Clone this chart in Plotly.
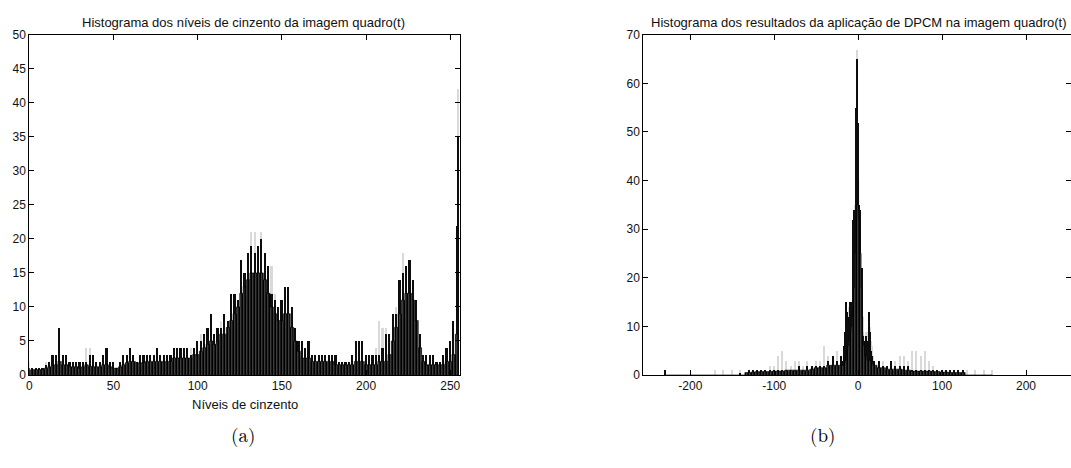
import plotly.graph_objects as go

# ---------------- (a) grey-level histogram ----------------
niveis_a = [0, 2, 4, 6, 8, 10, 12, 14, 16, 18, 20, 22, 24, 26, 28, 30, 32, 34, 36, 38,
            40, 42, 44, 46, 48, 50, 52, 54, 56, 58, 60, 62, 64, 66, 68, 70, 72, 74, 76, 78,
            80, 82, 84, 86, 88, 90, 92, 94, 96, 98, 100, 102, 104, 106, 108, 110, 112, 114, 116, 118,
            120, 122, 124, 126, 128, 130, 132, 134, 136, 138, 140, 142, 144, 146, 148, 150, 152, 154, 156, 158,
            160, 162, 164, 166, 168, 170, 172, 174, 176, 178, 180, 182, 184, 186, 188, 190, 192, 194, 196, 198,
            200, 202, 204, 206, 208, 210, 212, 214, 216, 218, 220, 222, 224, 226, 228, 230, 232, 234, 236, 238,
            240, 242, 244, 246, 248, 250, 252, 254, 255]
corpo_a = [0.7, 0.8, 0.8, 0.8, 0.8, 1, 1.2, 1.5, 1.5, 2, 1.5, 1.5, 1.2, 1.2, 1.2, 1.0, 1.2, 1.5, 1.3, 1.2,
           1.2, 1.2, 1.5, 1.5, 1.2, 1.0, 1.0, 1.2, 1.5, 1.8, 2, 2, 1.8, 1.8, 1.8, 2, 2, 2, 2, 2,
           2, 2, 2, 2.5, 2.5, 2.5, 2.5, 2.5, 2.5, 3, 3, 3.5, 4, 4.5, 5, 4.5, 5, 6, 6, 7,
           8, 9, 10, 12, 13, 14, 15, 15, 15, 15, 14, 12, 10, 9, 8, 8, 9, 9, 7, 5,
           3.5, 2.5, 2.5, 2.5, 2, 2, 2, 2, 2, 2, 2, 1.5, 1.5, 1.5, 1.5, 1.5, 1.5, 2, 2, 2,
           1.5, 1.5, 1.5, 1.5, 2, 2, 2, 3, 5, 7, 9, 11, 12, 12, 11, 8, 4, 2, 1.5, 1.5,
           1.5, 1.5, 1.5, 1.5, 2, 2, 3, 6, 6]
pico_a = [1, 1, 1, 1, 1, 1.5, 2, 3, 3, 7, 3, 3, 2, 2, 2, 2, 2, 2, 3, 3,
          2, 2, 3, 4, 2, 2, 1, 2, 3, 3, 4, 3, 2, 3, 3, 3, 3, 3, 4, 3,
          3, 3, 3, 4, 4, 4, 4, 4, 3, 4, 5, 5, 6, 7, 9, 6, 7, 7, 9, 8,
          12, 12, 11, 17, 15, 18, 19, 18, 19, 20, 18, 16, 12, 11, 10, 11, 13, 13, 10, 7,
          5, 5, 4, 5, 3, 3, 3, 3, 3, 3, 3, 3, 2, 2, 2, 2, 3, 5, 5, 5,
          3, 3, 3, 3, 3, 4, 6, 6, 9, 9, 14, 15, 16, 17, 14, 11, 6, 3, 3, 3,
          3, 2, 2, 3, 4, 5, 8, 22, 35]
pontos_a = [2, 1, 1, 1, 1, 2, 2, 2, 3, 5, 2, 2, 2, 2, 2, 2, 2, 4, 4, 2,
            2, 2, 2, 2, 2, 1, 1, 2, 2, 2, 3, 3, 2, 2, 2, 2, 2, 2, 3, 2,
            3, 3, 3, 3, 3, 3, 4, 4, 4, 3, 4, 6, 5, 6, 7, 6, 6, 8, 7, 7,
            10, 11, 10, 12, 14, 17, 21, 21, 17, 21, 16, 15, 16, 12, 9, 10, 10, 11, 8, 6,
            5, 4, 3, 3, 3, 3, 2, 2, 3, 3, 2, 2, 2, 2, 2, 2, 2, 3, 3, 3,
            2, 2, 2, 4, 8, 7, 7, 5, 8, 10, 14, 18, 14, 15, 12, 10, 5, 3, 2, 2,
            2, 2, 2, 2, 3, 4, 6, 10, 42]
ticks_x_a = [0, 50, 100, 150, 200, 250]
ticks_y_a = [0, 5, 10, 15, 20, 25, 30, 35, 40, 45, 50]

# ---------------- (b) DPCM histogram ----------------
dpcm_b = [-230, -170, -160, -150, -140, -130, -125, -120, -115, -110, -105, -100, -95, -90, -85, -80,
          -75, -70, -65, -60, -55, -50, -45, -40, -35, -30, -25, -20, -19, -18, -17, -16, -15, -14,
          -13, -12, -11, -10, -9, -8, -7, -6, -5, -4, -3, -2, -1, 0, 1, 2, 3, 4, 5, 6, 7, 8, 9,
          10, 11, 12, 13, 14, 15, 16, 17, 18, 19, 20, 25, 30, 35, 40, 45, 50, 55, 60, 65, 70, 75,
          80, 85, 90, 95, 100, 105, 110, 115, 120, 125, 130, 140, 150, 160]
corpo_b = [0, 0, 0, 0, 0, 0.5, 0.6, 0.7, 0.7, 0.7, 0.7, 0.8, 0.8, 0.8, 1, 1,
           1, 1, 1, 1, 1.2, 1.5, 1.5, 1.5, 2, 2, 2, 2, 2, 2, 2, 2.5, 3, 4,
           5, 6, 7, 8, 9, 10, 12, 14, 18, 25, 30, 32, 35, 40, 33, 30, 25, 18, 12, 8, 6, 4, 4,
           4, 3, 3, 3, 3, 3, 2.5, 2.5, 2, 2, 2, 1.5, 1.5, 1.2, 1.2, 1.2, 1.2, 1, 1, 0.8, 0.8, 0.8,
           0.8, 0.8, 0.7, 0.7, 0.6, 0.6, 0.5, 0.5, 0.5, 0.5, 0, 0, 0, 0]
pico_b = [1, 0, 0, 0, 0.5, 1, 1, 1, 1, 1, 1, 1, 1, 1, 1, 1,
          1, 2, 1, 2, 2, 2, 2, 2, 3, 4, 3, 4, 3, 3, 3, 6, 9, 15,
          13, 10, 11, 12, 15, 15, 14, 11, 32, 34, 33, 55, 65, 52, 35, 33, 34, 17, 22, 8, 7, 5, 6,
          8, 6, 7, 10, 13, 9, 5, 4, 3, 3, 3, 3, 2, 2, 3, 2, 2, 2, 2, 1, 1, 1,
          1, 1, 1, 1, 1, 1, 1, 1, 1, 1, 0, 0, 0, 0]
pontos_b = [0, 1, 1, 1, 1, 1, 1, 1, 1, 1, 2, 2, 4, 5, 3, 2,
            3, 3, 2, 3, 2, 3, 3, 6, 4, 4, 5, 4, 3, 3, 3, 4, 6, 9,
            10, 12, 10, 14, 11, 12, 14, 15, 20, 30, 35, 36, 67, 45, 34, 30, 28, 20, 13, 9, 6, 5, 5,
            9, 8, 9, 11, 11, 10, 7, 6, 4, 3, 3, 3, 3, 2, 2, 3, 4, 4, 3, 5, 5, 4,
            5, 3, 2, 1, 1, 1, 1, 1, 1, 1, 1, 1, 1, 1]
ticks_x_b = [-200, -100, 0, 100, 200]
rotulos_x_b = ["-200", "-100", "0", "100", "200"]
ticks_y_b = [0, 10, 20, 30, 40, 50, 60, 70]

W, H = 1071, 468
def px(x):
    return x / W
def py(y):
    return 1 - y / H

fig = go.Figure()

def add_hist(xs, corpo, pico, pontos, xa, ya, wbar):
    fig.add_trace(go.Bar(x=xs, y=pontos, width=wbar, xaxis=xa, yaxis=ya,
                         marker=dict(color="#b0b0b0", line_width=0,
                                     pattern=dict(shape=".", fgcolor="#6a6a6a", bgcolor="#ffffff",
                                                  size=2, solidity=0.6)),
                         showlegend=False))
    fig.add_trace(go.Bar(x=xs, y=pico, width=wbar, xaxis=xa, yaxis=ya,
                         marker=dict(color="#0d0d0d", line_width=0), showlegend=False))
    fig.add_trace(go.Scatter(x=xs, y=corpo, xaxis=xa, yaxis=ya, mode="lines",
                             line=dict(shape="hvh", width=0.6, color="#000000"),
                             fill="tozeroy", fillcolor="#000000",
                             fillpattern=dict(shape="|", fgcolor="#ffffff", bgcolor="#000000",
                                              size=3, solidity=0.22),
                             showlegend=False))

add_hist(niveis_a, corpo_a, pico_a, pontos_a, "x", "y", 1.3)
add_hist(dpcm_b, corpo_b, pico_b, pontos_b, "x2", "y2", 1.6)

axis_common = dict(showline=True, linecolor="black", linewidth=1, mirror="allticks",
                   ticks="inside", ticklen=5, tickcolor="black", showgrid=False, zeroline=False,
                   automargin=False,
                   tickfont=dict(family="Liberation Sans, Arial, sans-serif", size=12, color="#111111"))

fig.update_layout(
    width=W, height=H, margin=dict(l=0, r=0, t=0, b=0, pad=0),
    paper_bgcolor="white", plot_bgcolor="white", barmode="overlay", bargap=0,
    xaxis=dict(domain=[px(29.3), px(459.5)], range=[0, 255.5], tickvals=ticks_x_a,
               anchor="y", **axis_common),
    yaxis=dict(domain=[py(375), py(34.7)], range=[0, 50], tickvals=ticks_y_a,
               anchor="x", **axis_common),
    xaxis2=dict(domain=[px(643.3), px(1070.5)], range=[-256, 253],
                tickvals=ticks_x_b, ticktext=rotulos_x_b, anchor="y2", **axis_common),
    yaxis2=dict(domain=[py(375), py(34.7)], range=[0, 70], tickvals=ticks_y_b,
                anchor="x2", **axis_common),
)

txt = dict(family="Liberation Sans, Arial, sans-serif", size=13, color="#111111")
fig.add_annotation(text="Histograma dos níveis de cinzento da imagem quadro(t)", xref="paper", yref="paper",
                   x=px(243), y=py(22), showarrow=False, font=txt, xanchor="center", yanchor="middle")
fig.add_annotation(text="Histograma dos resultados da aplicação de DPCM na imagem quadro(t)", xref="paper",
                   yref="paper", x=px(1068), y=py(22), showarrow=False, font=txt,
                   xanchor="right", yanchor="middle")
fig.add_annotation(text="Níveis de cinzento", xref="paper", yref="paper", x=px(245), y=py(404),
                   showarrow=False, font=txt, xanchor="center", yanchor="middle")
lab = dict(family="Latin Modern Roman, DejaVu Serif, Liberation Serif, serif", size=19, color="black")
fig.add_annotation(text="(a)", xref="paper", yref="paper", x=px(243), y=py(434), showarrow=False,
                   font=lab, xanchor="center", yanchor="middle")
fig.add_annotation(text="(b)", xref="paper", yref="paper", x=px(822), y=py(434), showarrow=False,
                   font=lab, xanchor="center", yanchor="middle")

fig.write_html("out.html", config={"displayModeBar": False},
               post_script="document.body.style.margin='0';document.body.style.padding='0';"
                           "document.body.style.overflow='hidden';")
